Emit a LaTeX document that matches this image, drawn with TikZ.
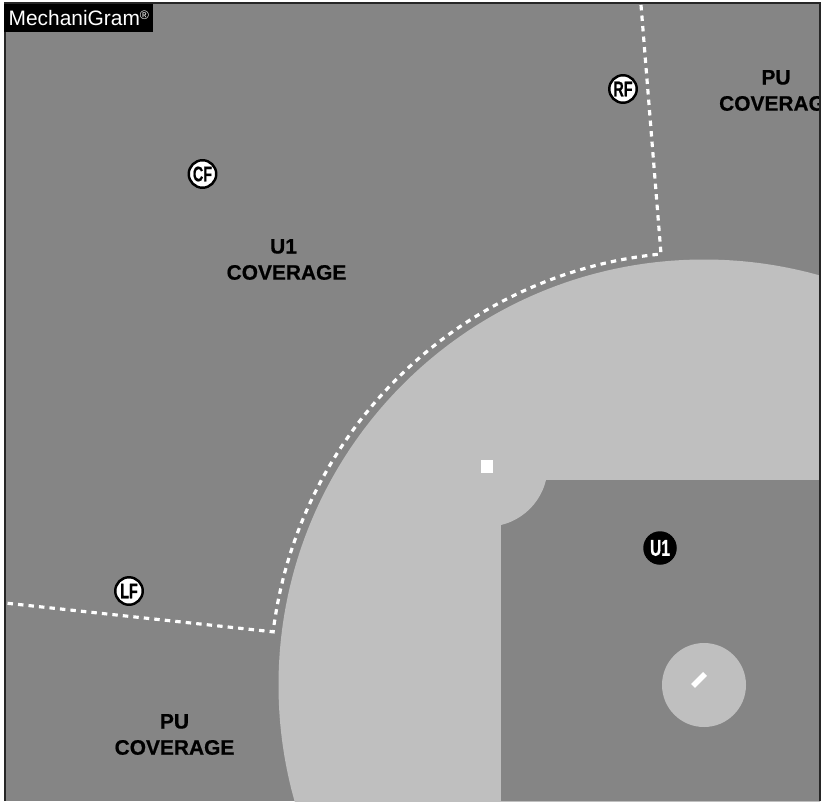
\documentclass[tikz,border=0pt]{standalone}
\usepackage{fontspec}
\setmainfont{Liberation Sans}
\newfontfamily\narrowfont[FakeStretch=0.68,FakeBold=0.6]{Liberation Sans Bold}
\newfontfamily\zonefont[FakeBold=0.6]{Liberation Sans Bold}
\definecolor{fieldgray}{HTML}{858585}
\definecolor{dirtgray}{HTML}{BFBFBF}

\begin{document}
\begin{tikzpicture}[
    x=0.02cm, y=-0.02cm,
    zone/.style={font=\zonefont\fontsize{11.9}{14.9}\selectfont, text=black, align=center, inner sep=0pt},
    fielder/.style={circle, draw=black, fill=white, line width=1.4pt, minimum size=0.55cm, inner sep=0pt, font=\narrowfont\fontsize{12}{12}\selectfont, text=black},
    umpire/.style={circle, fill=black, minimum size=0.67cm, inner sep=0pt, font=\narrowfont\fontsize{13}{13}\selectfont, text=white},
    boundary/.style={white, line width=1.8pt, dash pattern=on 3.1pt off 2.9pt}
]
\useasboundingbox (0,0) rectangle (824,801);

\begin{scope}
\clip (5,3) rectangle (820,801);
% --- Grass and dirt ---
\fill[fieldgray] (5,3) rectangle (820,801);
\fill[dirtgray] (704,685) circle[radius=425.5];
\fill[fieldgray] (501,480) rectangle (820,801);
\fill[dirtgray] (487,466) circle[radius=60.6];
\fill[dirtgray] (704,685) circle[radius=42];
% --- Second base and rubber ---
\fill[white] (481,460) rectangle (493,473);
\draw[white, line width=3.1pt] (693,686) -- (705,674);
% --- Coverage boundary ---
\draw[boundary] (641,5) -- (661,254) arc[start angle=264.4, end angle=187.1, radius=433.5] -- (5,603);
% --- Coverage labels ---
\node[zone] (zoneU) at (286.5,259.5) {U1\hspace*{3.4pt}\\COVERAGE};
\node[zone] (zonePUleft) at (174.5,734.5) {PU\\COVERAGE};
\node[zone] (zonePUright) at (779,90.5) {PU\hspace*{3.4pt}\\COVERAGE};
\end{scope}

% --- Frame ---
\draw[black!85, line width=0.8pt] (5,801) -- (5,3) -- (820,3) -- (820,801);

% --- Players ---
\node[fielder] (cf) at (202.5,174) {CF};
\node[fielder] (rf) at (623,89) {RF};
\node[fielder] (lf) at (129,591) {LF};
\node[umpire] (uone) at (660,548) {U1};

% --- Logo ---
\node[fill=black, text=white, anchor=north west, minimum width=2.98cm, minimum height=0.56cm, inner sep=0pt, font=\fontsize{11.9}{11.9}\selectfont] (logo) at (4,4) {MechaniGram\raisebox{0.55ex}{\fontsize{7}{7}\selectfont\textregistered}};
\end{tikzpicture}
\end{document}
